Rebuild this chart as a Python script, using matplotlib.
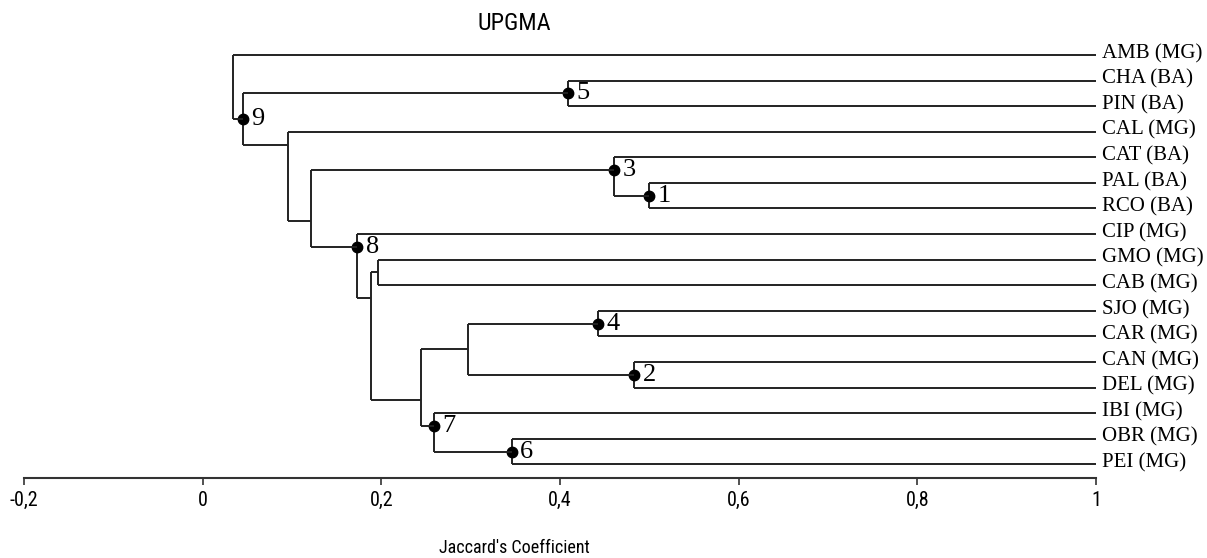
import numpy as np
import matplotlib
matplotlib.use("Agg")
import matplotlib.pyplot as plt

# Folhas (ordem de cima para baixo)
leaves = ["AMB (MG)", "CHA (BA)", "PIN (BA)", "CAL (MG)", "CAT (BA)", "PAL (BA)",
          "RCO (BA)", "CIP (MG)", "GMO (MG)", "CAB (MG)", "SJO (MG)", "CAR (MG)",
          "CAN (MG)", "DEL (MG)", "IBI (MG)", "OBR (MG)", "PEI (MG)"]

# Agrupamentos: filhos (indice < 17 = folha, senao no 17+i), similaridade, rotulo
left_child = [5, 12, 4, 10, 1, 15, 20, 14, 23, 8, 26, 7, 19, 3, 21, 0]
right_child = [6, 13, 17, 11, 2, 16, 18, 22, 24, 9, 25, 27, 28, 29, 30, 31]
heights = [0.500, 0.483, 0.461, 0.443, 0.409, 0.346, 0.297, 0.259, 0.244,
           0.196, 0.188, 0.173, 0.121, 0.095, 0.045, 0.034]
node_labels = ["1", "2", "3", "4", "5", "6", "", "7", "", "", "", "8", "", "", "9", ""]

xticks = [-0.2, 0, 0.2, 0.4, 0.6, 0.8, 1]
xtick_labels = ["-0,2", "0", "0,2", "0,4", "0,6", "0,8", "1"]

narrow = ["Liberation Sans Narrow", "DejaVu Sans Condensed", "Roboto Condensed", "Roboto"]
serif = ["Liberation Serif", "DejaVu Serif"]
lc = "#222222"

n = len(leaves)
W, H = 1207, 558
fig = plt.figure(figsize=(W / 100, H / 100), dpi=100)
ax = fig.add_axes([24 / W, 1 - 478 / H, (1096 - 24) / W, (478 - 40) / H])

# posicao (x, y) e folhas extremas de cada no
xpos = {i: 1.0 for i in range(n)}
ypos = {i: float(i) for i in range(n)}
span = {i: (i, i) for i in range(n)}

for k, (a, b, h) in enumerate(zip(left_child, right_child, heights)):
    node = n + k
    ya, yb = ypos[a], ypos[b]
    ysplit = (span[a][1] + span[b][0]) / 2
    ax.plot([xpos[a], h], [ya, ya], color=lc, lw=1.4, solid_capstyle="butt")
    ax.plot([xpos[b], h], [yb, yb], color=lc, lw=1.4, solid_capstyle="butt")
    ax.plot([h, h], [ya, yb], color=lc, lw=1.4, solid_capstyle="butt")
    xpos[node] = h
    ypos[node] = ysplit
    span[node] = (span[a][0], span[b][1])
    if node_labels[k]:
        ax.plot(h, ysplit, "o", color="black", ms=7.5)
        ax.annotate(node_labels[k], (h, ysplit), xytext=(6, 0), textcoords="offset points",
                    va="center", ha="left", fontsize=19, family=serif)

for i, name in enumerate(leaves):
    ax.annotate(name, (1.0, i), xytext=(4, 1), textcoords="offset points",
                va="center", ha="left", fontsize=15, family=serif)

ax.set_xlim(-0.2, 1.0)
ax.set_ylim(16 + 13.7 / 25.58, -15 / 25.58)
for s in ["top", "left", "right"]:
    ax.spines[s].set_visible(False)
ax.spines["bottom"].set_color("#333333")
ax.spines["bottom"].set_linewidth(1.5)
ax.set_yticks([])
ax.set_xticks(xticks)
ax.set_xticklabels(xtick_labels, family=narrow, fontsize=14.5)
ax.tick_params(axis="x", direction="out", length=5, width=1.2, color="#333333", pad=4)

fig.text(514 / W, 1 - 24 / H, "UPGMA", ha="center", va="center", fontsize=17.5, family=narrow)
fig.text(514 / W, 1 - 548 / H, "Jaccard's Coefficient", ha="center", va="center",
         fontsize=13, family=narrow)

fig.savefig("out.png", dpi=100)
